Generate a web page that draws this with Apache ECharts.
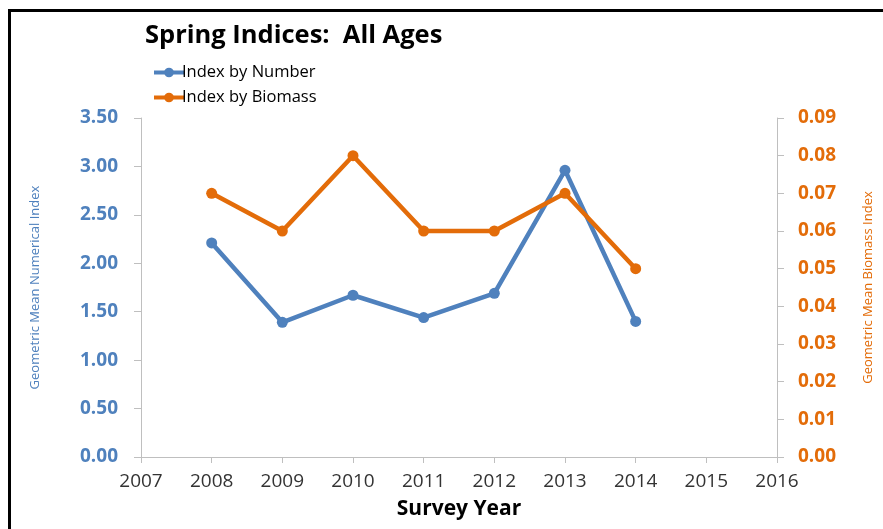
<!DOCTYPE html>
<html>
<head>
<meta charset="utf-8">
<script src="https://cdn.jsdelivr.net/npm/echarts@6/dist/echarts.min.js"></script>
<style>
  html, body { margin: 0; padding: 0; background: #fff; overflow: hidden; }
  #chart { width: 883px; height: 529px; }
</style>
</head>
<body>
<div id="chart"></div>
<script>
// Survey years and index values
const years = [2008, 2009, 2010, 2011, 2012, 2013, 2014];
const indexByNumber = [2.21, 1.39, 1.67, 1.44, 1.69, 2.96, 1.40];
const indexByBiomass = [0.07, 0.06, 0.08, 0.06, 0.06, 0.07, 0.05];

const blue = '#4f81bd';
const orange = '#e36c09';
const font = '"Open Sans", "DejaVu Sans", sans-serif';

const chart = echarts.init(document.getElementById('chart'));
chart.setOption({
  animation: false,
  backgroundColor: '#fff',
  title: {
    text: 'Spring Indices:  All Ages',
    left: 140, top: 18,
    textStyle: { fontFamily: font, fontSize: 25.5, fontWeight: 'bold', color: '#000' }
  },
  legend: {
    orient: 'vertical',
    left: 147, top: 59,
    itemGap: 8,
    itemWidth: 30, itemHeight: 12,
    lineStyle: { width: 4 },
    textStyle: { fontFamily: font, fontSize: 16.5, color: '#000', padding: [0, 0, 0, -7] },
    data: ['Index by Number', 'Index by Biomass']
  },
  grid: { left: 141, width: 643, top: 118, bottom: 72 },
  xAxis: {
    type: 'value',
    min: 2007, max: 2016, interval: 1,
    name: 'Survey Year',
    nameLocation: 'middle', nameGap: 42,
    nameTextStyle: { fontFamily: font, fontSize: 21, fontWeight: 'bold', color: '#000' },
    axisLine: { lineStyle: { color: '#bfbfbf', width: 1 } },
    axisTick: { show: true, length: 6, lineStyle: { color: '#bfbfbf' } },
    axisLabel: { fontFamily: font, fontSize: 19, color: '#333', margin: 15, formatter: v => String(v) },
    splitLine: { show: false }
  },
  yAxis: [
    {
      type: 'value', min: 0, max: 3.5, interval: 0.5,
      name: 'Geometric Mean Numerical Index',
      nameLocation: 'middle', nameGap: 99, nameRotate: 90,
      nameTextStyle: { fontFamily: font, fontSize: 13, color: blue },
      axisLine: { show: true, lineStyle: { color: '#bfbfbf' } },
      axisTick: { show: true, length: 7, lineStyle: { color: '#bfbfbf' } },
      axisLabel: { fontFamily: font, fontSize: 19, fontWeight: 'bold', color: blue, margin: 23, formatter: v => v.toFixed(2) },
      splitLine: { show: false }
    },
    {
      type: 'value', min: 0, max: 0.09, interval: 0.01,
      name: 'Geometric Mean Biomass Index',
      nameLocation: 'middle', nameGap: 85, nameRotate: 90,
      nameTextStyle: { fontFamily: font, fontSize: 13, color: orange },
      axisLine: { show: true, lineStyle: { color: '#bfbfbf' } },
      axisTick: { show: true, length: 7, lineStyle: { color: '#bfbfbf' } },
      axisLabel: { fontFamily: font, fontSize: 19, fontWeight: 'bold', color: orange, margin: 21, formatter: v => v.toFixed(2) },
      splitLine: { show: false }
    }
  ],
  graphic: [{
    type: 'rect',
    left: 7, top: 8,
    shape: { width: 900, height: 600 },
    style: { fill: 'none', stroke: '#000', lineWidth: 3 },
    silent: true
  }],
  series: [
    {
      name: 'Index by Number',
      type: 'line', yAxisIndex: 0,
      data: years.map((y, i) => [y, indexByNumber[i]]),
      color: blue,
      lineStyle: { width: 4.5, color: blue },
      symbol: 'circle', symbolSize: 11,
      itemStyle: { color: blue }
    },
    {
      name: 'Index by Biomass',
      type: 'line', yAxisIndex: 1,
      data: years.map((y, i) => [y, indexByBiomass[i]]),
      color: orange,
      lineStyle: { width: 4.5, color: orange },
      symbol: 'circle', symbolSize: 11,
      itemStyle: { color: orange }
    }
  ]
});
</script>
</body>
</html>
